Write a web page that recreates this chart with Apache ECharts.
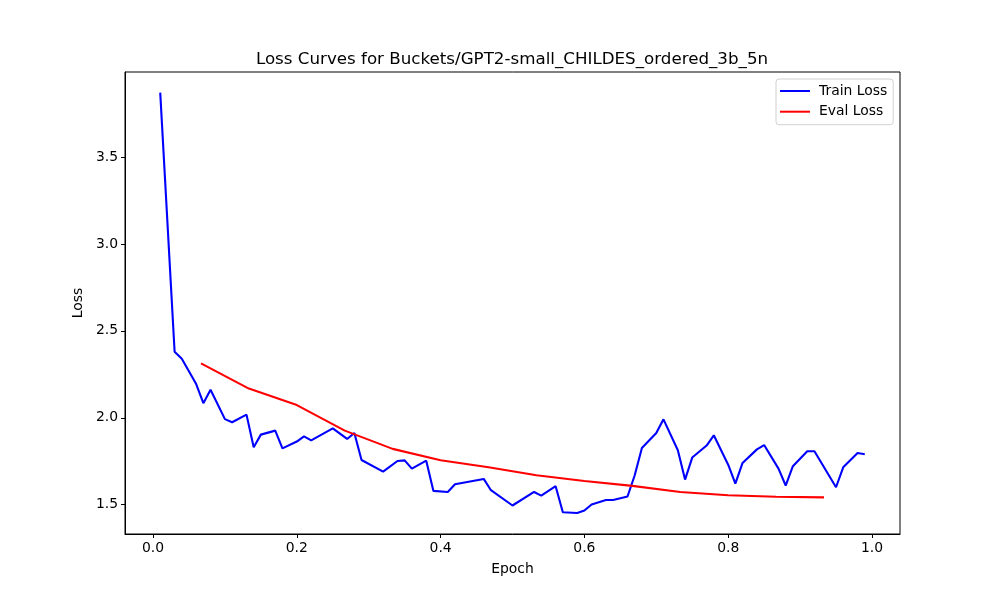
<!DOCTYPE html>
<html>
<head>
<meta charset="utf-8">
<script src="https://cdn.jsdelivr.net/npm/echarts@6/dist/echarts.min.js"></script>
<style>html,body{margin:0;padding:0;background:#fff;}#c{width:1000px;height:600px;}</style>
</head>
<body>
<div id="c"></div>
<script>
const trainEpochs = [0.01,0.03,0.04,0.06,0.07,0.08,0.10,0.11,0.13,0.14,0.15,0.17,0.18,0.20,0.21,0.22,0.25,0.27,0.28,0.29,0.32,0.34,0.35,0.36,0.38,0.39,0.41,0.42,0.46,0.47,0.50,0.53,0.54,0.56,0.57,0.59,0.60,0.61,0.63,0.64,0.66,0.67,0.68,0.70,0.71,0.73,0.74,0.75,0.77,0.78,0.80,0.81,0.82,0.84,0.85,0.87,0.88,0.89,0.91,0.92,0.95,0.96,0.98,0.99];
const trainLoss = [3.871,2.380,2.340,2.194,2.084,2.161,1.992,1.974,2.018,1.830,1.903,1.926,1.824,1.863,1.893,1.870,1.939,1.878,1.912,1.757,1.690,1.751,1.755,1.707,1.753,1.579,1.573,1.617,1.648,1.583,1.495,1.573,1.552,1.606,1.456,1.452,1.466,1.501,1.527,1.527,1.547,1.669,1.826,1.912,1.991,1.813,1.644,1.771,1.840,1.899,1.730,1.621,1.740,1.818,1.843,1.707,1.610,1.721,1.807,1.807,1.600,1.715,1.797,1.790];
const evalEpochs = [0.0667,0.1333,0.2,0.2667,0.3333,0.4,0.4667,0.5333,0.6,0.6667,0.7333,0.8,0.8667,0.9333];
const evalLoss = [2.313,2.168,2.073,1.926,1.821,1.755,1.715,1.669,1.636,1.608,1.573,1.554,1.545,1.542];
const xTicks = [0,0.2,0.4,0.6,0.8,1.0];
const yTicks = [1.5,2.0,2.5,3.0,3.5];
const titleText = 'Loss Curves for Buckets/GPT2-small_CHILDES_ordered_3b_5n';

const font = 'DejaVu Sans';
const chart = echarts.init(document.getElementById('c'), null, {renderer:'canvas'});
const axisCommon = {
  axisLine:{show:true,onZero:false,lineStyle:{color:'#000',width:1}},
  axisTick:{show:true,inside:false,length:4,lineStyle:{color:'#000',width:1}},
  splitLine:{show:false},
  nameTextStyle:{color:'#000',fontFamily:font,fontSize:13.9}
};
chart.setOption({
  animation:false,
  backgroundColor:'#fff',
  title:{text:titleText,left:507,textAlign:'center',top:46,
    textStyle:{fontFamily:font,fontSize:16.7,fontWeight:'normal',color:'#000'}},
  grid:{left:125,right:100,top:72,bottom:66,show:true,borderColor:'#000',borderWidth:1,backgroundColor:'transparent'},
  legend:{left:776,top:79,orient:'vertical',itemWidth:30,itemHeight:2,itemGap:4.7,
    padding:[4,6,5,4],borderColor:'#d0d0d0',borderWidth:1,borderRadius:3,backgroundColor:'#fff',
    textStyle:{fontFamily:font,fontSize:13.9,color:'#000',lineHeight:16,padding:[0,0,0,4]},
    data:[{name:'Train Loss',icon:'rect'},{name:'Eval Loss',icon:'rect'}]},
  xAxis:Object.assign({},axisCommon,{type:'value',min:-0.039,max:1.039,
    name:'Epoch',nameLocation:'middle',nameGap:28,
    axisTick:Object.assign({},axisCommon.axisTick,{customValues:xTicks}),
    axisLabel:{customValues:xTicks,color:'#000',fontFamily:font,fontSize:13.9,margin:7,
      formatter:v=>v.toFixed(1)}}),
  yAxis:Object.assign({},axisCommon,{type:'value',min:1.331,max:3.99,
    name:'Loss',nameLocation:'middle',nameGap:32,
    axisTick:Object.assign({},axisCommon.axisTick,{customValues:yTicks}),
    axisLabel:{customValues:yTicks,color:'#000',fontFamily:font,fontSize:13.9,margin:7,
      formatter:v=>v.toFixed(1)}}),
  series:[
    {name:'Train Loss',type:'line',symbol:'none',color:'#0000ff',
      lineStyle:{color:'#0000ff',width:2.1},
      data:trainEpochs.map((e,i)=>[e,trainLoss[i]])},
    {name:'Eval Loss',type:'line',symbol:'none',color:'#ff0000',
      lineStyle:{color:'#ff0000',width:2.1},
      data:evalEpochs.map((e,i)=>[e,evalLoss[i]])}
  ]
});
</script>
</body>
</html>
